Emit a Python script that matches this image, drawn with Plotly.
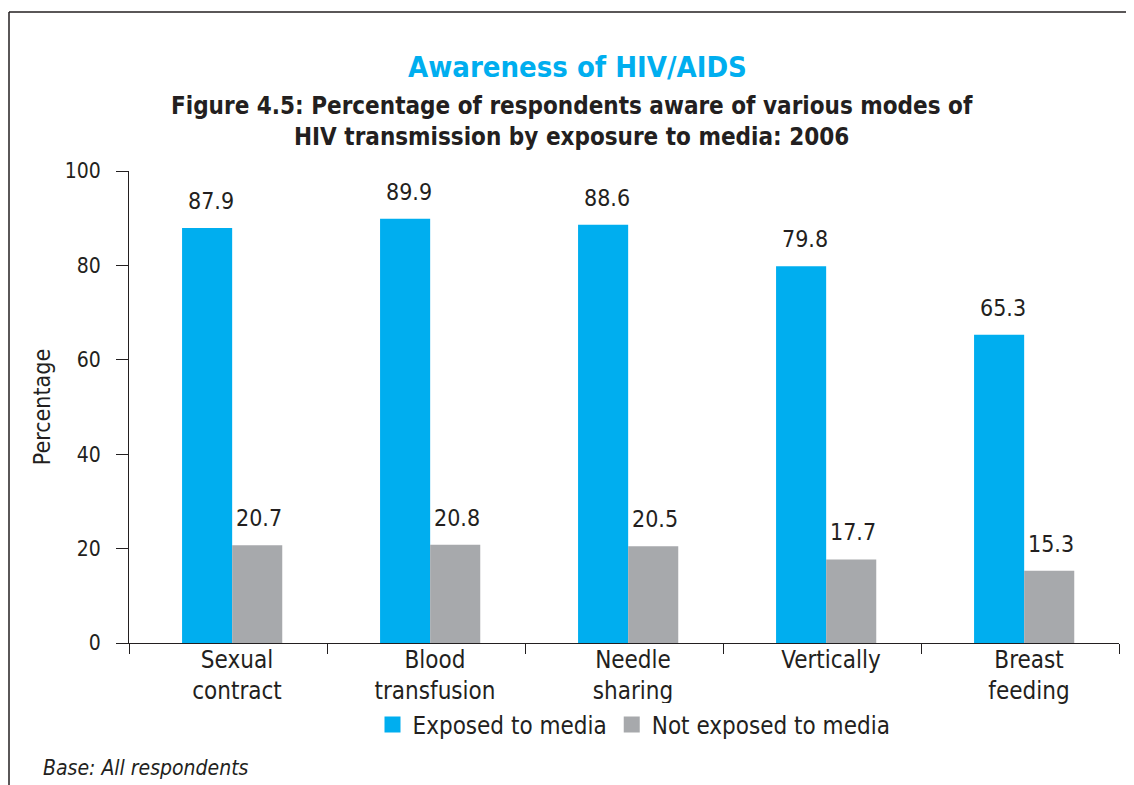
import plotly.graph_objects as go

# data
categories = ["Sexual<br>contract", "Blood<br>transfusion", "Needle<br>sharing",
              "Vertically", "Breast<br>feeding"]
exposed = [87.9, 89.9, 88.6, 79.8, 65.3]
not_exposed = [20.7, 20.8, 20.5, 17.7, 15.3]
series_names = ["Exposed to media", "Not exposed to media"]

CYAN = "#00AEEF"
GREY = "#A7A9AC"
INK = "#231F20"
FONT = "DejaVu Sans Condensed"

# page body adds an 8px offset, so the figure is drawn 8px smaller
OFF = 8
W, H = 1134 - OFF, 785 - OFF
L, T = 129 - OFF, 171 - OFF
R = W - (1119 - OFF)
B = H - (643 - OFF)


def px_x(p):
    # screen x pixel -> paper coordinate
    return (p - OFF - L) / (W - L - R)


def px_y(p):
    return (H - B - (p - OFF)) / (H - T - B)


fig = go.Figure()
fig.add_trace(go.Bar(x=categories, y=exposed, name=series_names[0],
                     width=0.253, offset=-0.232,
                     marker=dict(color=CYAN, line=dict(width=0)),
                     showlegend=False))
fig.add_trace(go.Bar(x=categories, y=not_exposed, name=series_names[1],
                     width=0.253, offset=0.021,
                     marker=dict(color=GREY, line=dict(width=0)),
                     showlegend=False))

# legend-only entries with bigger square swatches
for name, col in zip(series_names, (CYAN, GREY)):
    fig.add_trace(go.Scatter(x=[None], y=[None], mode="markers", name=name,
                             marker=dict(symbol="square", size=22, color=col)))

# value labels above the bars
for vals, shift in ((exposed, -17), (not_exposed, 31)):
    for c, v in zip(categories, vals):
        fig.add_annotation(x=c, y=v, text=f"{v:.1f}", showarrow=False,
                           xshift=shift, yshift=27, yanchor="middle",
                           font=dict(size=23, color=INK, family=FONT))

fig.add_annotation(xref="paper", yref="paper", x=px_x(577), y=px_y(67),
                   xanchor="center", yanchor="middle",
                   text="<b>Awareness of HIV/AIDS</b>", showarrow=False,
                   font=dict(size=29, color=CYAN, family=FONT))
fig.add_annotation(xref="paper", yref="paper", x=px_x(572), y=px_y(121),
                   xanchor="center", yanchor="middle",
                   text="<b>Figure 4.5: Percentage of respondents aware of various modes of"
                        "<br>HIV transmission by exposure to media: 2006</b>",
                   showarrow=False, align="center",
                   font=dict(size=24, color=INK, family=FONT))
fig.add_annotation(xref="paper", yref="paper", x=px_x(41), y=px_y(768),
                   xanchor="left", yanchor="middle",
                   text="<i>Base: All respondents</i>",
                   showarrow=False, font=dict(size=21, color=INK, family=FONT))

# frame lines (top and left edges)
fig.add_shape(type="line", xref="paper", yref="paper",
              x0=px_x(OFF + 1), x1=px_x(1134), y0=px_y(12), y1=px_y(12),
              line=dict(color=INK, width=1.5))
fig.add_shape(type="line", xref="paper", yref="paper",
              x0=px_x(OFF + 1), x1=px_x(OFF + 1), y0=px_y(12), y1=px_y(785),
              line=dict(color=INK, width=1.5))

fig.update_layout(
    width=W, height=H,
    margin=dict(l=L, r=R, t=T, b=B),
    paper_bgcolor="white", plot_bgcolor="white",
    font=dict(family=FONT, size=22, color=INK),
    barmode="group",
    showlegend=True,
    legend=dict(orientation="h", x=px_x(634), xanchor="center",
                y=px_y(725), yanchor="middle",
                font=dict(size=24, color=INK, family=FONT),
                itemsizing="trace", tracegroupgap=0),
    xaxis=dict(showline=True, linecolor=INK, linewidth=1,
               ticks="outside", ticklen=10, tickcolor=INK,
               tickson="boundaries", showgrid=False,
               ticklabelstandoff=-5, ticklabelshift=9,
               tickfont=dict(size=24, color=INK)),
    yaxis=dict(range=[0, 100], dtick=20, showline=True, linecolor=INK,
               linewidth=1, ticks="outside", ticklen=12, tickcolor=INK,
               showgrid=False, zeroline=False, ticklabelstandoff=11,
               tickfont=dict(size=21, color=INK),
               title=dict(text="Percentage", standoff=7,
                          font=dict(size=23, color=INK))),
)

fig.write_html("out.html")
